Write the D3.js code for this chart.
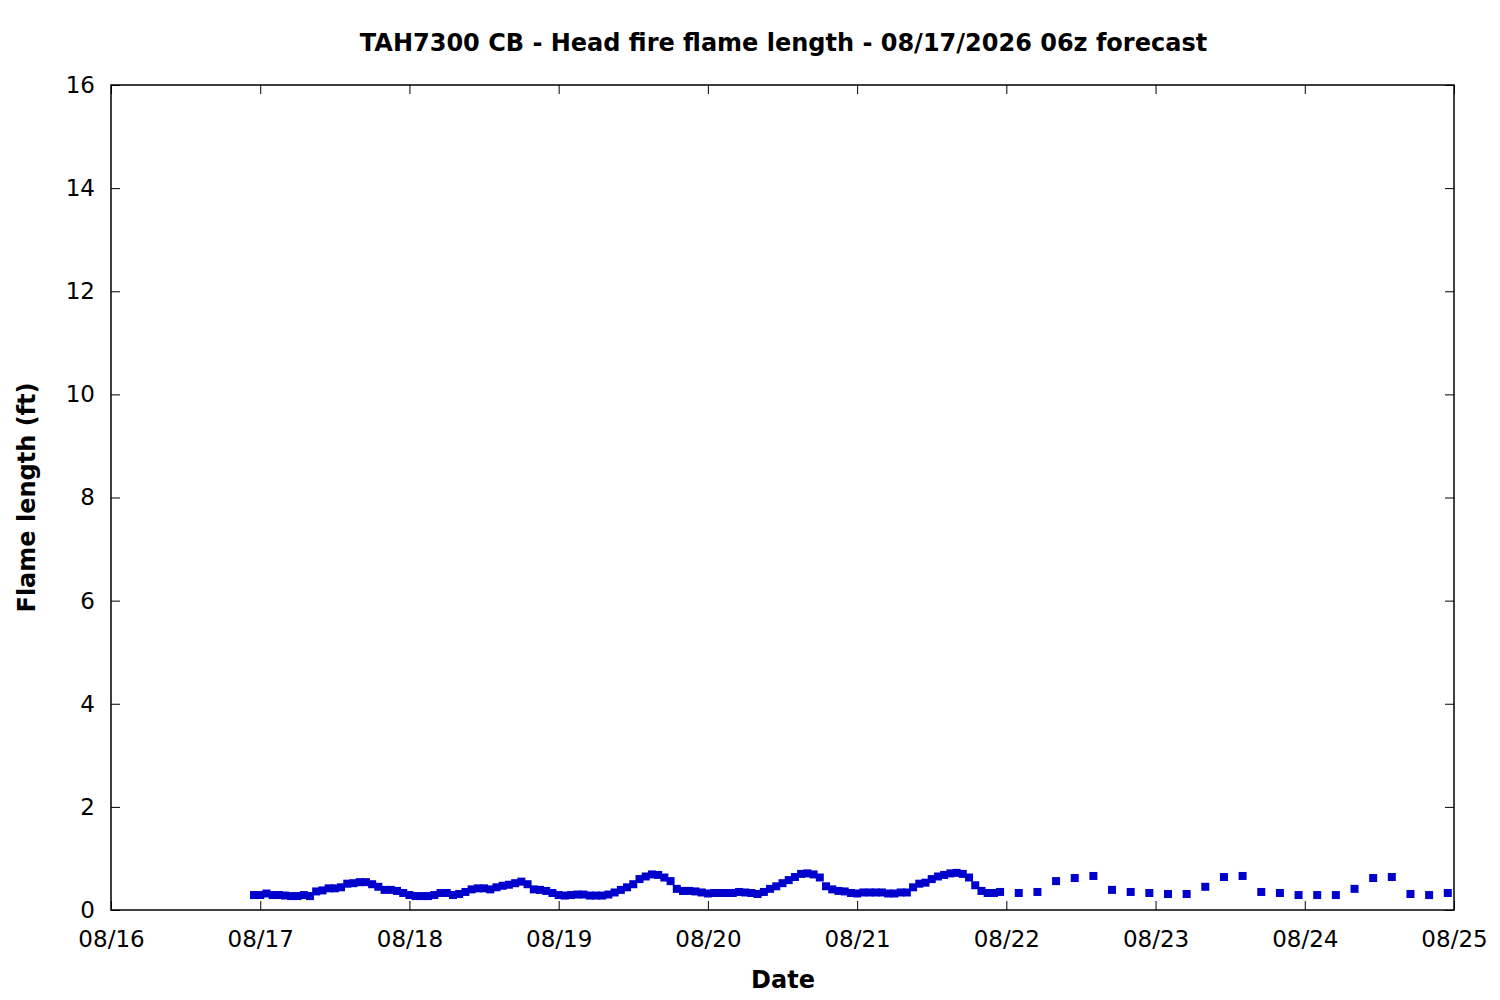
<!DOCTYPE html>
<html>
<head>
<meta charset="utf-8">
<script src="https://cdn.jsdelivr.net/npm/d3@7"></script>
<style>
  html, body { margin: 0; padding: 0; background: #fff; }
  text { font-family: "DejaVu Sans", sans-serif; fill: #000; }
</style>
</head>
<body>
<svg id="chart" width="1500" height="1000"></svg>
<script>
// ---- data ----
const titleText = "TAH7300 CB - Head fire flame length - 08/17/2026 06z forecast";
const xLabel = "Date";
const yLabel = "Flame length (ft)";
const xTickLabels = ["08/16","08/17","08/18","08/19","08/20","08/21","08/22","08/23","08/24","08/25"];
const yTickValues = [0, 2, 4, 6, 8, 10, 12, 14, 16];

// hourly forecast, starting 08/16 23:00
const hourlyStart = "2026-08-16T23:00:00Z";
const hourlyValues = [
  0.29,
  0.29,0.32,0.29,0.29,0.28,0.27,0.27,0.29,0.27,0.36,0.38,0.42,0.42,0.44,0.51,0.52,0.54,0.54,0.50,0.45,0.39,0.39,0.37,0.33,
  0.29,0.27,0.27,0.27,0.29,0.33,0.33,0.29,0.31,0.35,0.40,0.42,0.42,0.40,0.44,0.47,0.49,0.52,0.55,0.50,0.40,0.39,0.37,0.33,
  0.29,0.28,0.29,0.30,0.30,0.28,0.28,0.28,0.30,0.34,0.39,0.44,0.50,0.60,0.65,0.69,0.68,0.63,0.56,0.41,0.37,0.37,0.36,0.34,
  0.32,0.33,0.33,0.33,0.33,0.35,0.34,0.33,0.31,0.35,0.41,0.46,0.52,0.58,0.64,0.70,0.71,0.69,0.63,0.46,0.40,0.37,0.36,0.33,
  0.32,0.34,0.34,0.34,0.34,0.32,0.32,0.34,0.34,0.44,0.51,0.53,0.60,0.65,0.68,0.71,0.72,0.70,0.63,0.48,0.37,0.33,0.33,0.35
];
// 3-hourly forecast, starting 08/22 02:00
const threeHourlyStart = "2026-08-22T02:00:00Z";
const threeHourlyValues = [
  0.33,0.35,0.56,0.62,0.66,0.39,0.35,0.33,
  0.31,0.31,0.45,0.64,0.66,0.35,0.33,0.29,
  0.29,0.29,0.41,0.62,0.64,0.31,0.29,0.33
];

// ---- build points ----
const HOUR = 3600 * 1000;
const points = [];
const h0 = new Date(hourlyStart).getTime();
hourlyValues.forEach((v, i) => points.push({ t: new Date(h0 + i * HOUR), v }));
const t0 = new Date(threeHourlyStart).getTime();
threeHourlyValues.forEach((v, i) => points.push({ t: new Date(t0 + i * 3 * HOUR), v }));

// ---- layout ----
const svg = d3.select("#chart");
const L = 111, R = 1454, T = 85, B = 910;
const tickLen = 9;
const tickFont = 23;

const x = d3.scaleUtc()
  .domain([new Date("2026-08-16T00:00:00Z"), new Date("2026-08-25T00:00:00Z")])
  .range([L, R]);
const y = d3.scaleLinear().domain([0, 16]).range([B, T]);

const xTicks = xTickLabels.map((lab, i) => ({ lab, t: new Date(Date.UTC(2026, 7, 16 + i)) }));

// bottom axis
const xAxis = d3.axisBottom(x)
  .tickValues(xTicks.map(d => d.t))
  .tickFormat((d, i) => xTicks[i].lab)
  .tickSizeInner(-tickLen).tickSizeOuter(0).tickPadding(20.5);
const gx = svg.append("g").attr("transform", `translate(0,${B})`).call(xAxis);
gx.select(".domain").remove();
gx.selectAll("text").attr("font-size", tickFont).attr("font-family", "DejaVu Sans, sans-serif").attr("fill", "#000");
gx.selectAll("line").attr("stroke", "#000");

// top axis (mirror ticks)
const gxt = svg.append("g").attr("transform", `translate(0,${T})`)
  .call(d3.axisTop(x).tickValues(xTicks.map(d => d.t)).tickFormat("").tickSizeInner(-tickLen).tickSizeOuter(0));
gxt.select(".domain").remove();
gxt.selectAll("line").attr("stroke", "#000");

// left axis
const yAxis = d3.axisLeft(y).tickValues(yTickValues).tickFormat(d3.format("d"))
  .tickSizeInner(-tickLen).tickSizeOuter(0).tickPadding(16);
const gy = svg.append("g").attr("transform", `translate(${L},0)`).call(yAxis);
gy.select(".domain").remove();
gy.selectAll("text").attr("font-size", tickFont).attr("font-family", "DejaVu Sans, sans-serif").attr("fill", "#000");
gy.selectAll("line").attr("stroke", "#000");

// right axis (mirror)
const gyr = svg.append("g").attr("transform", `translate(${R},0)`)
  .call(d3.axisRight(y).tickValues(yTickValues).tickFormat("").tickSizeInner(-tickLen).tickSizeOuter(0));
gyr.select(".domain").remove();
gyr.selectAll("line").attr("stroke", "#000");

// frame
svg.append("rect").attr("x", L).attr("y", T).attr("width", R - L).attr("height", B - T)
  .attr("fill", "none").attr("stroke", "#000").attr("stroke-width", 1.5);

// points
const S = 8;
svg.append("g").selectAll("rect.pt").data(points).join("rect")
  .attr("class", "pt")
  .attr("x", d => x(d.t) - S / 2)
  .attr("y", d => y(d.v) - S / 2)
  .attr("width", S).attr("height", S)
  .attr("fill", "#0000cc");

// title & labels
svg.append("text").attr("x", (L + R) / 2 + 1).attr("y", 51)
  .attr("text-anchor", "middle").attr("font-size", 24).attr("font-weight", "bold").text(titleText);
svg.append("text").attr("x", (L + R) / 2 + 0.5).attr("y", 988)
  .attr("text-anchor", "middle").attr("font-size", 24).attr("font-weight", "bold").text(xLabel);
svg.append("text").attr("transform", `translate(35,${(T + B) / 2}) rotate(-90)`)
  .attr("text-anchor", "middle").attr("font-size", 24).attr("font-weight", "bold").text(yLabel);
</script>
</body>
</html>
